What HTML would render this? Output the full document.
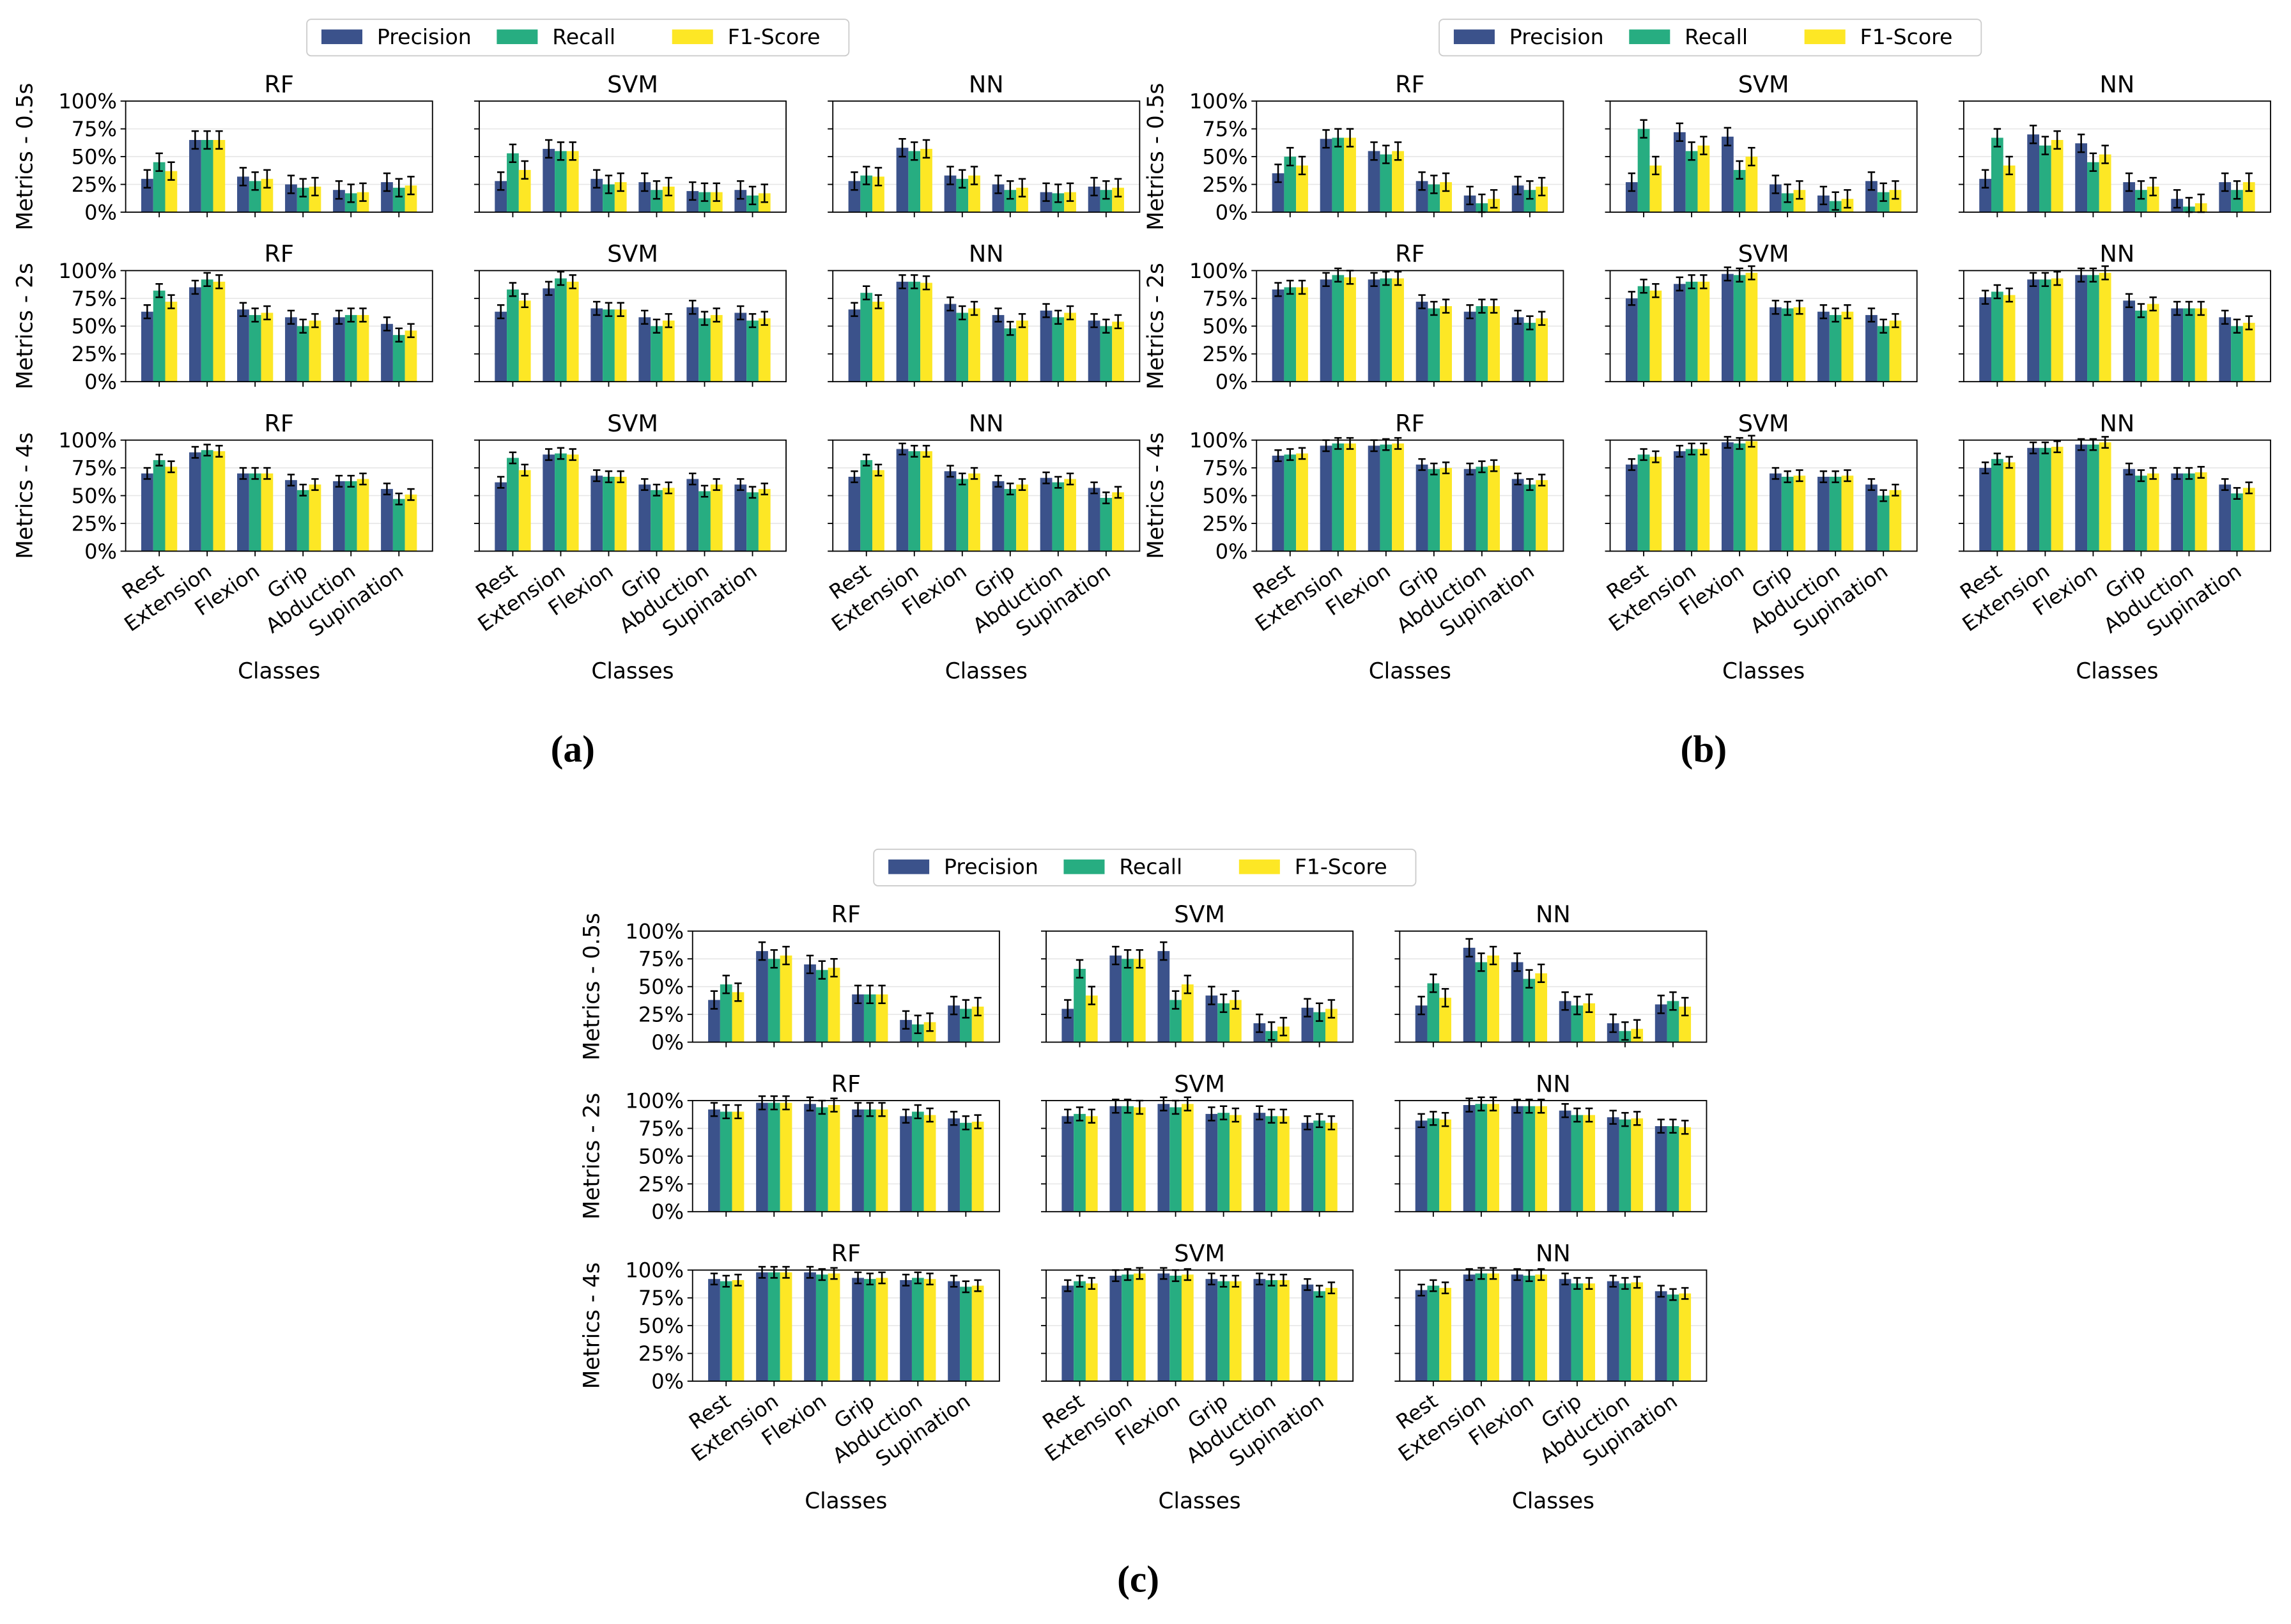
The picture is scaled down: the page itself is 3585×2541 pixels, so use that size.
<!DOCTYPE html>
<html><head><meta charset="utf-8"><style>
html,body{margin:0;padding:0;background:#fff}
svg{display:block;font-family:"DejaVu Sans","Liberation Sans",sans-serif}
</style></head><body>
<svg id="fig" xmlns="http://www.w3.org/2000/svg" width="3585" height="2541" viewBox="0 0 1568 1111"></svg>
<script>
const classes=["Rest","Extension","Flexion","Grip","Abduction","Supination"];
const metrics=["Precision","Recall","F1-Score"];
const models=["RF","SVM","NN"];
const windows=["0.5s","2s","4s"];
const yTicks=[0,25,50,75,100];
const yTickLabels=["0%","25%","50%","75%","100%"];
const colors=["#3b528b","#27ad81","#fde725"];
const panelA=[
 [[[30,45,37],[65,65,65],[32,28,30],[25,22,23],[20,17,18],[27,22,24]],
  [[28,53,38],[57,55,55],[30,25,27],[27,20,23],[19,18,18],[20,15,17]],
  [[28,33,32],[58,55,57],[33,30,33],[25,20,22],[18,17,18],[23,20,22]]],
 [[[63,82,72],[85,92,90],[65,60,62],[58,50,55],[58,60,60],[52,42,46]],
  [[63,83,73],[84,93,90],[66,65,65],[58,50,55],[67,57,60],[62,55,57]],
  [[65,80,72],[90,90,89],[70,62,66],[60,48,55],[64,58,62],[55,50,54]]],
 [[[70,82,76],[89,91,90],[70,70,70],[64,55,60],[63,63,65],[56,47,51]],
  [[62,84,73],[87,88,87],[68,67,67],[60,55,57],[65,54,60],[60,53,56]],
  [[67,82,73],[92,90,90],[72,65,70],[63,56,60],[66,62,65],[57,48,53]]]];
const panelB=[
 [[[35,50,42],[66,67,67],[55,52,55],[28,25,27],[15,8,12],[24,20,23]],
  [[27,75,42],[72,55,60],[68,38,50],[25,17,20],[15,10,12],[28,18,20]],
  [[30,67,42],[70,60,65],[62,45,52],[27,20,23],[12,5,8],[27,20,27]]],
 [[[83,85,85],[92,96,94],[92,93,93],[72,66,68],[63,68,68],[58,53,57]],
  [[75,86,82],[88,90,90],[97,96,98],[67,66,67],[63,60,63],[60,50,55]],
  [[76,81,78],[92,92,93],[96,96,98],[73,64,70],[66,66,66],[58,50,53]]],
 [[[86,87,88],[95,97,97],[95,96,97],[78,74,75],[74,76,77],[65,60,64]],
  [[78,87,85],[90,92,92],[98,97,99],[70,67,68],[67,67,68],[60,50,55]],
  [[75,83,80],[93,93,94],[96,96,98],[74,68,70],[70,70,71],[60,52,57]]]];
const panelC=[
 [[[38,52,45],[82,75,78],[70,65,67],[43,43,43],[20,16,18],[33,30,32]],
  [[30,66,42],[78,75,75],[82,38,52],[42,35,38],[17,10,14],[31,27,30]],
  [[33,53,40],[85,72,78],[72,57,62],[37,33,35],[17,10,12],[34,37,32]]],
 [[[92,90,90],[98,98,98],[97,94,96],[92,92,92],[86,90,87],[84,80,81]],
  [[86,88,86],[95,95,94],[97,94,97],[88,89,87],[89,86,86],[80,82,80]],
  [[82,84,83],[96,97,97],[95,95,95],[91,87,87],[85,83,84],[77,77,76]]],
 [[[92,90,91],[98,98,98],[98,96,97],[93,92,93],[91,93,92],[90,85,86]],
  [[86,90,88],[95,96,97],[97,95,96],[92,90,90],[92,91,91],[87,81,84]],
  [[82,86,84],[96,97,97],[96,95,96],[92,88,88],[90,88,89],[81,78,79]]]];
const errBars=[8,6,5];

const NS="http://www.w3.org/2000/svg";
const svg=document.getElementById("fig");
function mk(tag,attrs,parent,text){const e=document.createElementNS(NS,tag);for(const k in attrs)e.setAttribute(k,attrs[k]);if(text!==undefined)e.textContent=text;(parent||svg).appendChild(e);return e;}

function drawPanel(data,x0,y0,label,labelX,labelY,legX,legY,name){
  const g=mk("g",{});
  
  
  const lg=mk("g",{},g);
  
  
  mk("rect",{x:legX,y:legY,width:371,height:25,rx:3,fill:"#fff",stroke:"#ccc","stroke-width":0.8},lg);
  metrics.forEach((m,i)=>{
    const ex=legX+10+i*120;
    const en=mk("g",{},lg);
    
    
    mk("rect",{x:ex,y:legY+7,width:28,height:10,fill:colors[i]},en);
    mk("text",{x:ex+38,y:legY+17,"font-size":14.5},en,m);
  });
  const axW=210,axH=76,colStep=242,rowStep=116;
  const xmin=-0.7,xmax=5.7;
  for(let r=0;r<3;r++)for(let c=0;c<3;c++){
    const ax=x0+c*colStep, ay=y0+r*rowStep;
    const sx=v=>ax+(v-xmin)/(xmax-xmin)*axW;
    const sy=v=>ay+axH-v/100*axH;
    const sg=mk("g",{},g);
    
    
    yTicks.forEach((t,i)=>{
      mk("line",{x1:ax,x2:ax+axW,y1:sy(t),y2:sy(t),stroke:"#e6e6e6","stroke-width":0.7},sg);
      mk("line",{x1:ax-3.5,x2:ax,y1:sy(t),y2:sy(t),stroke:"#000","stroke-width":0.8},sg);
      if(c===0)mk("text",{x:ax-6,y:sy(t)+5,"font-size":14,"text-anchor":"end"},sg,yTickLabels[i]);
    });
    const vals=data[r][c];
    classes.forEach((cl,ci)=>{
      metrics.forEach((m,mi)=>{
        const v=vals[ci][mi];
        const cx=sx(ci+(mi-1)*0.25);
        const bw=0.25/(xmax-xmin)*axW;
        const b=mk("rect",{x:cx-bw/2,y:sy(v),width:bw,height:sy(0)-sy(v),fill:colors[mi]},sg);
        
        
        const e=errBars[r];
        const top=v+e, bot=Math.max(v-e,0);
        mk("line",{x1:cx,x2:cx,y1:sy(top),y2:sy(bot),stroke:"#000","stroke-width":1.1},sg);
        mk("line",{x1:cx-2.5,x2:cx+2.5,y1:sy(top),y2:sy(top),stroke:"#000","stroke-width":1.1},sg);
        mk("line",{x1:cx-2.5,x2:cx+2.5,y1:sy(bot),y2:sy(bot),stroke:"#000","stroke-width":1.1},sg);
      });
      const tx=sx(ci);
      mk("line",{x1:tx,x2:tx,y1:ay+axH,y2:ay+axH+3.5,stroke:"#000","stroke-width":0.8},sg);
      if(r===2)mk("text",{x:tx+4,y:ay+axH+16,"font-size":14,"text-anchor":"end",transform:`rotate(-35 ${tx+4} ${ay+axH+16})`},sg,cl);
    });
    mk("rect",{x:ax,y:ay,width:axW,height:axH,fill:"none",stroke:"#000","stroke-width":0.8},sg);
    mk("text",{x:ax+axW/2,y:ay-6,"font-size":16,"text-anchor":"middle"},sg,models[c]);
    if(c===0){const yl=ax-64,yc=ay+axH/2;mk("text",{x:yl,y:yc,"font-size":15,"text-anchor":"middle",transform:`rotate(-90 ${yl} ${yc})`},sg,"Metrics - "+windows[r]);}
    if(r===2)mk("text",{x:ax+axW/2,y:ay+axH+87,"font-size":15,"text-anchor":"middle"},sg,"Classes");
  }
  mk("text",{x:labelX,y:labelY,"font-size":26,"font-weight":"bold","text-anchor":"middle","font-family":"Liberation Serif, serif"},g,label);
}
drawPanel(panelA,86,69,"(a)",392,521,210,13,"panel-a");
drawPanel(panelB,860,69,"(b)",1166,521,985,13,"panel-b");
drawPanel(panelC,474,637,"(c)",779,1089,598,581,"panel-c");
</script>
</body></html>
